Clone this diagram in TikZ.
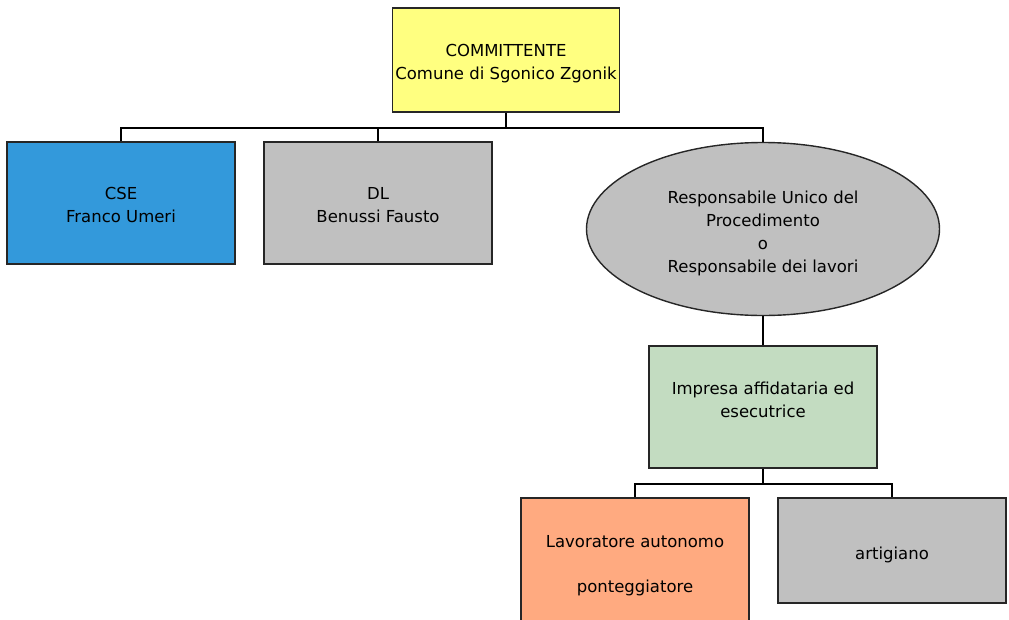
\documentclass[tikz,border=0pt]{standalone}
\usepackage{fontspec}
\setmainfont{DejaVu Sans}
\usetikzlibrary{shapes.geometric}

\definecolor{cyellow}{HTML}{FFFF80}
\definecolor{cblue}{HTML}{3399DB}
\definecolor{cgray}{HTML}{C0C0C0}
\definecolor{cgreen}{HTML}{C3DCC1}
\definecolor{corange}{HTML}{FFAA80}

% text lines of a box, moved up or down by #1
\newcommand{\rolelines}[2]{\raisebox{#1}[\height][\depth]{\begin{tabular}{@{}c@{}}#2\end{tabular}}}

\begin{document}
\begin{tikzpicture}[x=1pt,y=-1pt,semithick,font=\fontsize{16.5}{23}\selectfont]
	\tikzstyle{every node}=[align=center,inner sep=0pt]
	\tikzstyle{role}=[draw=black!85,line width=1.4pt,rectangle,minimum width=228pt,minimum height=122pt]
	\tikzstyle{link}=[draw=black,line width=1.2pt]

	\useasboundingbox (0,0) rectangle (1009,619);

	\node[role,fill=cyellow,minimum width=227pt,minimum height=104pt] (comm) at (506,60) {\rolelines{-3pt}{COMMITTENTE\\Comune di Sgonico Zgonik}};
	\node[role,fill=cblue] (cse) at (121,203) {\rolelines{-3pt}{CSE\\Franco Umeri}};
	\node[role,fill=cgray] (dl) at (378,203) {\rolelines{-3pt}{DL\\Benussi Fausto}};
	\node[ellipse,draw=black!85,line width=1.4pt,fill=cgray,minimum width=353pt,minimum height=173pt] (rup) at (763,229)
		{\rolelines{-4pt}{Responsabile Unico del\\Procedimento\\o\\Responsabile dei lavori}};
	\node[role,fill=cgreen] (impresa) at (763,407) {\rolelines{6pt}{Impresa affidataria ed\\esecutrice}};
	\node[role,fill=corange,minimum height=124pt] (lav) at (635,560) {\rolelines{-5pt}{Lavoratore autonomo\\[22pt]ponteggiatore}};
	\node[role,fill=cgray,minimum height=105pt] (art) at (892,550.5) {\rolelines{-4pt}{artigiano}};

	\coordinate (bus1) at (506,128);
	\coordinate (bus2) at (763,484);

	\draw[link] (comm.south) -- (bus1);
	\draw[link] (cse.north) |- (bus1) -| (rup.north);
	\draw[link] (dl.north) -- (dl.north |- bus1);
	\draw[link] (rup.south) -- (impresa.north);
	\draw[link] (impresa.south) -- (bus2);
	\draw[link] (lav.north) |- (bus2) -| (art.north);
\end{tikzpicture}
\end{document}
